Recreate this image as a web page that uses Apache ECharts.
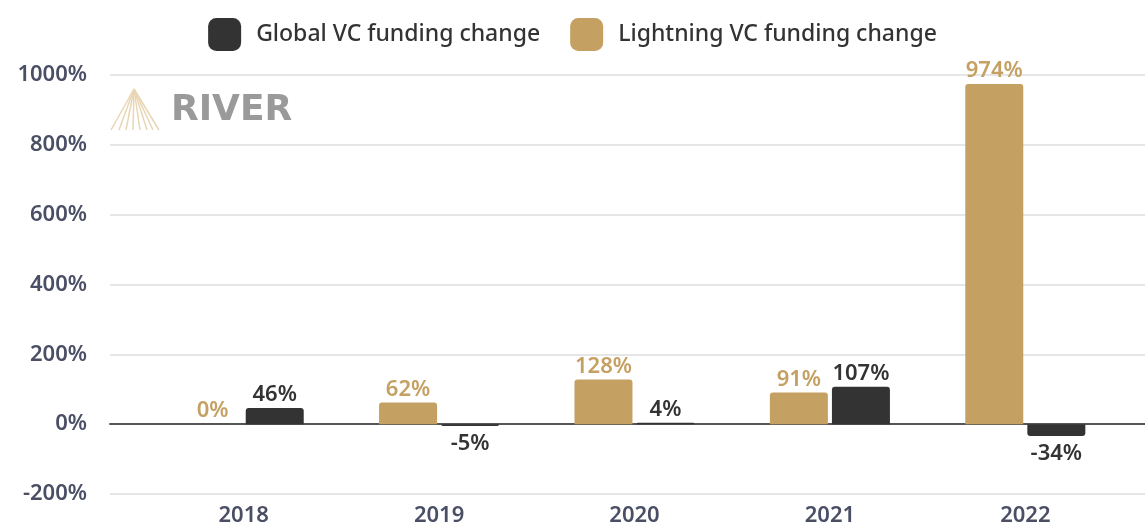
<!DOCTYPE html>
<html>
<head>
<meta charset="utf-8">
<title>VC funding change</title>
<script src="https://cdn.jsdelivr.net/npm/echarts@6/dist/echarts.min.js"></script>
<style>
  html, body { margin: 0; padding: 0; background: #fff; }
  #chart { width: 1145px; height: 529px; }
</style>
</head>
<body>
<div id="chart"></div>
<script>
  // data
  var years = ['2018', '2019', '2020', '2021', '2022'];
  var lightningChange = [0, 62, 128, 91, 974];
  var globalChange = [46, -5, 4, 107, -34];
  var yTicks = { min: -200, max: 1000, step: 200 };

  var GOLD = '#c4a062';
  var DARK = '#333333';
  var AXIS_TXT = '#4b4f66';
  var FONT = 'Noto Sans';

  // positive bars round on top, negative ones round at the bottom, labels follow
  function toItems(arr) {
    return arr.map(function (v) {
      return {
        value: v,
        itemStyle: { borderRadius: v < 0 ? [0, 0, 3, 3] : [3, 3, 0, 0] },
        label: { position: v < 0 ? 'bottom' : 'top', distance: v < 0 ? 7 : 2 }
      };
    });
  }

  // little watermark logo: lines fanning out from the apex
  var logoLines = [];
  [111, 119, 126, 133, 140, 147, 153, 159].forEach(function (bx) {
    logoLines.push({
      type: 'line',
      shape: { x1: 134, y1: 89, x2: bx, y2: 130 },
      style: { stroke: '#e8d6b4', lineWidth: 1.5 },
      silent: true
    });
  });

  var chart = echarts.init(document.getElementById('chart'));
  chart.setOption({
    animation: false,
    textStyle: { fontFamily: FONT },
    legend: {
      top: 13,
      left: 'center',
      itemWidth: 33,
      itemHeight: 33,
      itemGap: 30,
      icon: 'roundRect',
      data: ['Global VC funding change', 'Lightning VC funding change'],
      textStyle: { fontSize: 23, fontWeight: 500, color: '#333', fontFamily: FONT, padding: [0, 0, 0, 10] }
    },
    graphic: logoLines.concat([{
      type: 'text',
      left: 171,
      top: 93,
      style: { text: 'RIVER', font: 'bold 36px "DejaVu Sans"', fill: '#9a9a9a' },
      silent: true
    }]),
    grid: [
      { left: 110, right: 0, top: 75, bottom: 35 },
      { left: 146, right: 22, top: 75, bottom: 35 }
    ],
    xAxis: [
      {
        // only here to draw the zero line across the full width
        gridIndex: 0, type: 'value', min: 0, max: 1,
        axisLabel: { show: false }, axisTick: { show: false }, splitLine: { show: false },
        axisLine: { show: true, onZero: true, lineStyle: { color: '#555', width: 2 } }
      },
      {
        gridIndex: 1, type: 'category', data: years,
        axisLine: { show: false }, axisTick: { show: false },
        axisLabel: { fontSize: 22, fontWeight: 600, color: AXIS_TXT, margin: 11 }
      }
    ],
    yAxis: [
      {
        gridIndex: 0, type: 'value', min: yTicks.min, max: yTicks.max, interval: yTicks.step,
        axisLine: { show: false }, axisTick: { show: false },
        axisLabel: {
          fontSize: 22, fontWeight: 600, color: AXIS_TXT, margin: 23,
          formatter: function (v) { return v + '%'; }
        },
        splitLine: { lineStyle: { color: '#e6e6e6', width: 2 } }
      },
      {
        gridIndex: 1, type: 'value', min: yTicks.min, max: yTicks.max, interval: yTicks.step,
        show: false, splitLine: { show: false }
      }
    ],
    series: [
      {
        name: 'Lightning VC funding change',
        type: 'bar', xAxisIndex: 1, yAxisIndex: 1,
        barWidth: 58, barGap: '7%',
        itemStyle: { color: GOLD },
        label: { show: true, formatter: '{c}%', fontSize: 22, fontWeight: 600, color: GOLD, fontFamily: FONT },
        data: toItems(lightningChange)
      },
      {
        name: 'Global VC funding change',
        type: 'bar', xAxisIndex: 1, yAxisIndex: 1,
        barWidth: 58, barGap: '7%',
        itemStyle: { color: DARK },
        label: { show: true, formatter: '{c}%', fontSize: 22, fontWeight: 600, color: DARK, fontFamily: FONT },
        data: toItems(globalChange)
      }
    ]
  });
</script>
</body>
</html>
